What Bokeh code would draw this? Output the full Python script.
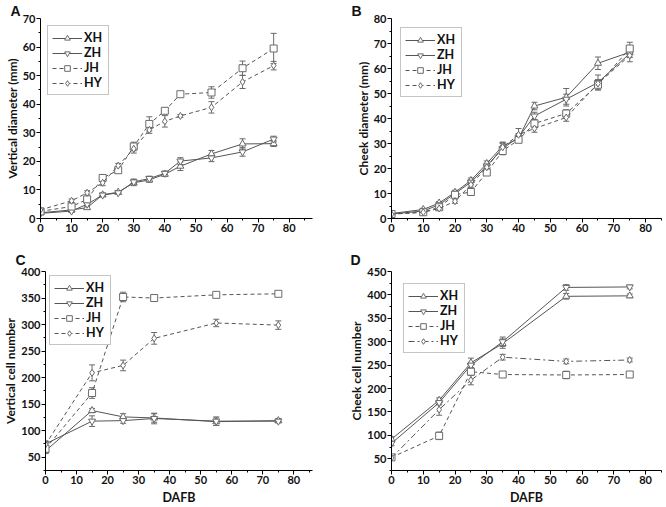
from bokeh.plotting import figure
from bokeh.models import (ColumnDataSource, Whisker, TeeHead, FixedTicker,
                          Legend, LegendItem, Range1d)
from bokeh.layouts import column, row
from bokeh.embed import file_html
from bokeh.resources import INLINE

# ---------------- data ----------------
SERIES = ["XH", "ZH", "JH", "HY"]
DAFB_AB = [0, 10, 15, 20, 25, 30, 35, 40, 45, 55, 65, 75]
DAFB_CD = [0, 15, 25, 35, 55, 75]

A_XH = [2.0, 3.0, 3.8, 8.3, 9.2, 12.5, 13.5, 15.5, 18.3, 22.6, 26.1, 26.2]
A_ZH = [1.8, 2.6, 5.0, 8.2, 9.0, 12.8, 14.0, 15.8, 20.1, 21.2, 23.3, 27.8]
A_JH = [2.5, 4.2, 6.7, 14.2, 16.9, 25.2, 33.1, 37.7, 43.5, 44.1, 52.6, 59.5]
A_HY = [3.0, 6.2, 9.0, 12.5, 18.5, 24.4, 31.0, 34.0, 35.9, 38.9, 47.8, 53.5]
A_XH_ERR = [0.3, 0.5, 0.5, 0.6, 0.6, 1.0, 0.8, 0.8, 1.5, 1.2, 1.8, 1.0]
A_ZH_ERR = [0.3, 0.5, 0.6, 0.6, 0.6, 1.0, 0.8, 0.8, 1.2, 1.3, 1.5, 1.0]
A_JH_ERR = [0.3, 0.8, 0.8, 1.2, 0.8, 1.5, 2.5, 1.0, 0.6, 2.0, 2.5, 5.3]
A_HY_ERR = [0.3, 0.6, 0.7, 1.0, 0.8, 1.5, 1.2, 2.0, 0.5, 2.0, 2.3, 1.5]

B_XH = [2.0, 3.6, 6.2, 10.5, 15.2, 22.0, 29.0, 32.0, 45.0, 48.5, 62.1, 66.5]
B_ZH = [1.8, 3.0, 5.5, 10.0, 14.5, 21.0, 28.0, 32.5, 41.0, 47.7, 54.4, 66.0]
B_JH = [1.8, 2.5, 4.5, 9.5, 10.6, 18.4, 27.0, 31.5, 38.0, 42.0, 53.5, 68.0]
B_HY = [1.7, 2.5, 4.0, 6.9, 13.5, 20.5, 28.5, 33.5, 36.0, 40.4, 54.0, 65.2]
B_XH_ERR = [0.3, 0.5, 0.6, 0.8, 1.0, 1.0, 1.5, 1.5, 1.5, 3.5, 2.5, 2.0]
B_ZH_ERR = [0.3, 0.5, 0.6, 0.8, 1.0, 1.0, 2.5, 1.5, 1.5, 2.0, 3.0, 1.5]
B_JH_ERR = [0.3, 0.4, 0.6, 0.8, 0.8, 1.0, 1.0, 1.0, 1.5, 1.5, 2.0, 2.5]
B_HY_ERR = [0.3, 0.4, 0.6, 0.8, 1.0, 1.0, 1.5, 2.5, 1.5, 1.5, 1.5, 2.5]

C_XH = [62, 138, 126, 124, 117, 119]
C_ZH = [75, 118, 119, 123, 118, 118]
C_JH = [66, 171, 352, 350, 356, 358]
C_HY = [74, 209, 223, 274, 303, 299]
C_XH_ERR = [5, 4, 6, 8, 7, 4]
C_ZH_ERR = [6, 10, 5, 10, 8, 3]
C_JH_ERR = [5, 10, 9, 4, 4, 4]
C_HY_ERR = [5, 15, 10, 11, 7, 8]

D_XH = [92, 175, 255, 296, 397, 398]
D_ZH = [83, 170, 250, 300, 416, 417]
D_JH = [53, 99, 236, 230, 229, 230]
D_HY = [52, 155, 218, 267, 258, 261]
D_XH_ERR = [5, 5, 10, 10, 6, 4]
D_ZH_ERR = [5, 5, 6, 10, 6, 4]
D_JH_ERR = [4, 8, 6, 4, 8, 4]
D_HY_ERR = [4, 12, 10, 6, 5, 4]

X_TICKS = [0, 10, 20, 30, 40, 50, 60, 70, 80]
X_MINOR = [5, 15, 25, 35, 45, 55, 65, 75, 85]
A_YTICKS = [0, 10, 20, 30, 40, 50, 60, 70]
B_YTICKS = [0, 10, 20, 30, 40, 50, 60, 70, 80]
C_YTICKS = [50, 100, 150, 200, 250, 300, 350, 400]
D_YTICKS = [50, 100, 150, 200, 250, 300, 350, 400, 450]

# ---------------- style ----------------
FONT = "Lato"
LINE_COL = "#555555"
MARK_COL = "#6a6a6a"
MARKERS = ["triangle", "inverted_triangle", "square", "diamond"]


def minor_of(ticks, lo, hi):
    step = ticks[1] - ticks[0]
    out = []
    v = ticks[0] - step / 2
    while v <= hi:
        if v >= lo:
            out.append(v)
        v += step
    return out


def panel(letter, xs, ys_list, err_list, ylabel, xlabel, xr, yr, yticks,
          width, height, bl, br, bt, bb, letter_off, letter_standoff, hy_dash, legend_margin):
    p = figure(width=width, height=height, x_range=Range1d(*xr), y_range=Range1d(*yr),
               output_backend="svg", toolbar_location=None,
               min_border_left=bl, min_border_right=br, min_border_top=bt,
               min_border_bottom=bb, title=letter)
    p.outline_line_color = None
    p.grid.visible = False
    p.background_fill_color = "white"

    # panel letter as the plot title
    p.title.align = "left"
    p.title.offset = letter_off
    p.title.standoff = letter_standoff
    p.title.text_font = "Liberation Sans"
    p.title.text_font_style = "bold"
    p.title.text_font_size = "14px"
    p.title.text_line_height = 1.0
    p.title.text_color = "#111111"

    p.xaxis.ticker = FixedTicker(ticks=X_TICKS, minor_ticks=X_MINOR)
    p.yaxis.ticker = FixedTicker(ticks=yticks, minor_ticks=minor_of(yticks, yr[0], yr[1]))
    for ax in (p.xaxis[0], p.yaxis[0]):
        ax.axis_line_color = "black"
        ax.major_tick_line_color = "black"
        ax.minor_tick_line_color = "black"
        ax.major_tick_out = 4
        ax.major_tick_in = 0
        ax.minor_tick_out = 2
        ax.minor_tick_in = 0
        ax.major_label_text_font = FONT
        ax.major_label_text_font_style = "bold"
        ax.major_label_text_font_size = "11px"
        ax.major_label_text_color = "#111111"
        ax.major_label_standoff = 1
        ax.axis_label_text_font = FONT
        ax.axis_label_text_font_style = "bold"
        ax.axis_label_text_font_size = "12.5px"
        ax.axis_label_text_color = "#111111"
        ax.axis_label_standoff = 2
    p.yaxis.axis_label = ylabel
    p.yaxis.axis_label_standoff = 0
    p.yaxis.axis_label_text_font_size = "12px"
    p.yaxis.major_label_standoff = 1
    if xlabel:
        p.xaxis.axis_label = xlabel
        p.xaxis.axis_label_standoff = 3

    dashes = ["solid", "solid", "4 3", hy_dash]
    items = []
    for name, ys, es, mk, dash in zip(SERIES, ys_list, err_list, MARKERS, dashes):
        src = ColumnDataSource(dict(x=xs, y=ys,
                                    upper=[y + e for y, e in zip(ys, es)],
                                    lower=[y - e for y, e in zip(ys, es)]))
        w = Whisker(source=src, base="x", upper="upper", lower="lower",
                    line_color=MARK_COL, line_width=1,
                    upper_head=TeeHead(size=6, line_color=MARK_COL, line_width=1),
                    lower_head=TeeHead(size=6, line_color=MARK_COL, line_width=1))
        p.add_layout(w)
        ln = p.line("x", "y", source=src, line_color=LINE_COL, line_width=1, line_dash=dash)
        sc = p.scatter("x", "y", source=src, marker=mk, size=7, fill_color="white",
                       line_color=MARK_COL, line_width=1)
        items.append(LegendItem(label=name, renderers=[ln, sc]))

    leg = Legend(items=items, location="top_left")
    leg.margin = legend_margin
    leg.padding = 4
    leg.spacing = 0
    leg.glyph_width = 30
    leg.glyph_height = 14
    leg.label_height = 14
    leg.label_standoff = 2
    leg.label_text_font = FONT
    leg.label_text_font_style = "bold"
    leg.label_text_font_size = "12.5px"
    leg.label_text_color = "#111111"
    leg.border_line_color = "#8a8a8a"
    leg.border_line_width = 1
    leg.background_fill_color = "white"
    leg.background_fill_alpha = 1
    p.add_layout(leg)
    return p


pA = panel("A", DAFB_AB, [A_XH, A_ZH, A_JH, A_HY], [A_XH_ERR, A_ZH_ERR, A_JH_ERR, A_HY_ERR],
           "Vertical diameter (mm)", None, (0, 87.5), (0, 70), A_YTICKS,
           333, 241, 40, 21, 12, 23, -30, 0, "4 3", 7)
pB = panel("B", DAFB_AB, [B_XH, B_ZH, B_JH, B_HY], [B_XH_ERR, B_ZH_ERR, B_JH_ERR, B_HY_ERR],
           "Cheek diameter (mm)", None, (0, 85), (0, 80), B_YTICKS,
           333, 241, 58, 5, 12, 23, -40, 0, "4 3", 9)
pC = panel("C", DAFB_CD, [C_XH, C_ZH, C_JH, C_HY], [C_XH_ERR, C_ZH_ERR, C_JH_ERR, C_HY_ERR],
           "Vertical cell number", "DAFB", (0, 86), (25, 400), C_YTICKS,
           333, 266, 40, 21, 30, 35, -30, 8, "4 3", 4)
pD = panel("D", DAFB_CD, [D_XH, D_ZH, D_JH, D_HY], [D_XH_ERR, D_ZH_ERR, D_JH_ERR, D_HY_ERR],
           "Cheek cell number", "DAFB", (0, 85), (25, 450), D_YTICKS,
           333, 266, 58, 5, 30, 35, -41, 8, "6 3 2 3", 12)

layout = column(row(pA, pB), row(pC, pD))
open("out.html", "w").write(file_html(layout, INLINE))
